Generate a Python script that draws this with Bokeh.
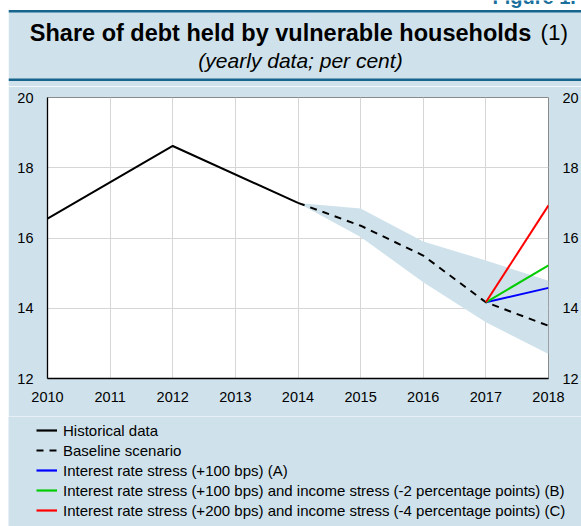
from bokeh.plotting import figure
from bokeh.layouts import column, row
from bokeh.models import (Range1d, Legend, LegendItem, LinearAxis, FixedTicker,
                          Spacer)
from bokeh.core.properties import value
from bokeh.embed import file_html
from bokeh.resources import INLINE

# ---- data ----
years_hist = [2010, 2012, 2014]
historical = [16.55, 18.62, 17.0]

years_proj = [2014, 2015, 2016, 2017, 2018]
baseline = [17.0, 16.35, 15.5, 14.17, 13.5]
band_upper = [17.0, 16.84, 15.9, 15.36, 14.78]
band_lower = [17.0, 16.03, 14.74, 13.6, 12.7]

years_stress = [2017, 2018]
stress_a = [14.17, 14.58]
stress_b = [14.17, 15.22]
stress_c = [14.17, 16.93]

x_ticks = [2010, 2011, 2012, 2013, 2014, 2015, 2016, 2017, 2018]
y_ticks = [12, 14, 16, 18, 20]

legend_labels = [
    "Historical data",
    "Baseline scenario",
    "Interest rate stress (+100 bps) (A)",
    "Interest rate stress (+100 bps) and income stress (-2 percentage points) (B)",
    "Interest rate stress (+200 bps) and income stress (-4 percentage points) (C)",
]
legend_colors = ["black", "black", "#0000ff", "#00cc00", "#ff0000"]
legend_dashes = ["solid", "7 6", "solid", "solid", "solid"]

title_main = "Share of debt held by vulnerable households"
title_note = "(1)"
subtitle = "(yearly data; per cent)"
fig_label = "Figure 1."

# ---- style ----
BG = "#cfe2ec"
TEAL = "#17648c"
FONT = "Liberation Sans"
W = 573
HEAD_H, MAIN_H, LEG_H = 86, 330, 110

# ---------------- header ----------------
head = figure(width=W, height=HEAD_H, output_backend="svg", toolbar_location=None,
              x_range=Range1d(8, 581), y_range=Range1d(HEAD_H, 0),
              x_axis_location=None, y_axis_location=None,
              min_border=0, frame_align=False)
head.grid.visible = False
head.outline_line_color = None
head.background_fill_color = "white"
head.border_fill_color = "white"
head.quad(left=[8], right=[581], top=[10], bottom=[HEAD_H], fill_color=BG,
          line_color=None)
head.quad(left=[8, 8], right=[581, 581], top=[9.5, 78], bottom=[12, 80.5],
          fill_color=TEAL, line_color=None)
head.text(x=[492], y=[-3.5], text=[fig_label], text_font=value(FONT),
          text_font_size="20px", text_font_style="bold", text_color="#1b6f9c",
          text_align="left", text_baseline="alphabetic")
head.text(x=[280], y=[32], text=[title_main], text_font=value(FONT),
          text_font_size="23.5px", text_font_style="bold", text_color="black",
          text_align="center", text_baseline="alphabetic")
head.text(x=[540], y=[32], text=[title_note], text_font=value(FONT),
          text_font_size="22.5px", text_color="black",
          text_align="left", text_baseline="alphabetic")
head.text(x=[300], y=[59.5], text=[subtitle], text_font=value(FONT),
          text_font_size="21px", text_font_style="italic", text_color="black",
          text_align="center", text_baseline="alphabetic")

# ---------------- main chart ----------------
p = figure(width=W, height=MAIN_H, output_backend="svg", toolbar_location=None,
           x_range=Range1d(2010, 2018), y_range=Range1d(12, 20),
           min_border_left=39, min_border_right=32, min_border_top=11,
           min_border_bottom=38, frame_align=False)
p.border_fill_color = BG
p.background_fill_color = "white"
p.outline_line_color = "#8a8a8a"
p.outline_line_width = 1

for ax in (p.xaxis[0], p.yaxis[0]):
    ax.axis_line_color = "black"
    ax.axis_line_width = 1.3
    ax.major_tick_out = 0
    ax.major_tick_in = 0
    ax.minor_tick_out = 0
    ax.minor_tick_in = 0
    ax.major_label_text_font = FONT
    ax.major_label_text_font_size = "14.5px"
    ax.major_label_text_color = "black"
p.xaxis.ticker = FixedTicker(ticks=x_ticks)
p.yaxis.ticker = FixedTicker(ticks=y_ticks)
p.xaxis.major_label_standoff = 13
p.yaxis.major_label_standoff = 14

right = LinearAxis(ticker=FixedTicker(ticks=y_ticks))
right.axis_line_color = None
right.major_tick_out = 0
right.major_tick_in = 0
right.minor_tick_out = 0
right.minor_tick_in = 0
right.major_label_standoff = 14
right.major_label_text_font = FONT
right.major_label_text_font_size = "14.5px"
right.major_label_text_color = "black"
p.add_layout(right, "right")

p.xgrid.ticker = FixedTicker(ticks=x_ticks)
p.ygrid.ticker = FixedTicker(ticks=y_ticks)
p.grid.grid_line_color = "#d6d6d6"
p.grid.grid_line_width = 1

p.varea(x=years_proj, y1=band_lower, y2=band_upper, fill_color=BG, fill_alpha=1.0)
p.line(years_hist, historical, line_color=legend_colors[0], line_width=2)
p.line(years_proj, baseline, line_color=legend_colors[1], line_width=2,
       line_dash=legend_dashes[1])
p.line(years_stress, stress_a, line_color=legend_colors[2], line_width=2)
p.line(years_stress, stress_b, line_color=legend_colors[3], line_width=2)
p.line(years_stress, stress_c, line_color=legend_colors[4], line_width=2)

# ---------------- legend ----------------
# proxy renderers carry the same series; the 0..1 ranges keep them out of view
leg = figure(width=W, height=LEG_H, output_backend="svg", toolbar_location=None,
             x_range=Range1d(0, 1), y_range=Range1d(0, 1),
             x_axis_location=None, y_axis_location=None, min_border=0,
             frame_align=False)
leg.grid.visible = False
leg.outline_line_color = None
leg.background_fill_color = BG
leg.border_fill_color = BG
series = [(years_hist, historical), (years_proj, baseline),
          (years_stress, stress_a), (years_stress, stress_b),
          (years_stress, stress_c)]
items = []
for lab, col, dash, (xs, ys) in zip(legend_labels, legend_colors, legend_dashes,
                                    series):
    r = leg.line(x=xs, y=ys, line_color=col, line_width=2.2, line_dash=dash)
    items.append(LegendItem(label=lab, renderers=[r]))
legend = Legend(items=items, location=(28, 6))
legend.background_fill_alpha = 0
legend.border_line_color = None
legend.margin = 0
legend.padding = 0
legend.spacing = 0
legend.glyph_width = 21
legend.glyph_height = 20
legend.label_height = 20
legend.label_standoff = 6
legend.label_text_font = FONT
legend.label_text_font_size = "15px"
legend.label_text_color = "black"
leg.add_layout(legend, "center")

layout = row(Spacer(width=8, height=HEAD_H + MAIN_H + LEG_H),
             column(head, p, leg))

open("out.html", "w").write(file_html(layout, INLINE))
